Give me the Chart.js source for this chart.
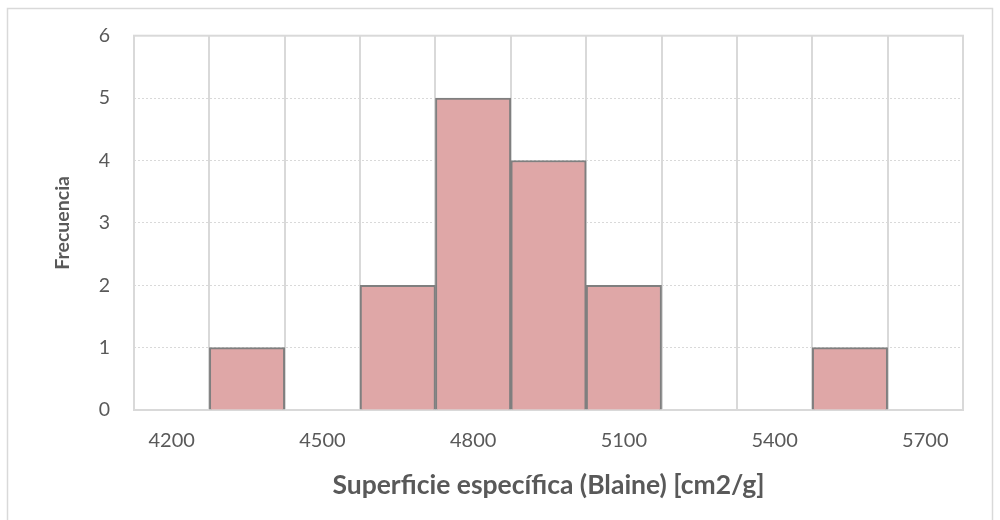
<!DOCTYPE html>
<html>
<head>
<meta charset="utf-8">
<script src="https://cdn.jsdelivr.net/npm/chart.js@4/dist/chart.umd.min.js"></script>
<style>
  html, body { margin: 0; padding: 0; background: #fff; }
  #wrap { width: 1000px; height: 520px; position: relative; }
</style>
</head>
<body>
<div id="wrap"><canvas id="myChart"></canvas></div>
<script>
// bin centres (class width 150) and counts
const bins = ['4200', '4350', '4500', '4650', '4800', '4950', '5100', '5250', '5400', '5550', '5700'];
const freq = [0, 1, 0, 2, 5, 4, 2, 0, 0, 1, 0];
const yTicks = [0, 1, 2, 3, 4, 5, 6];

const FONT = 'Lato, Calibri, "Open Sans", sans-serif';
const TEXT = '#595959';
const GRID = '#d9d9d9';

// outer frame + plot box, drawn under the bars
const frames = {
  id: 'frames',
  beforeDraw(chart) {
    const c = chart.ctx;
    c.save();
    c.strokeStyle = GRID;
    c.lineWidth = 1.5;
    c.strokeRect(7.5, 8.5, 985, 520);
    c.restore();
  },
  beforeDatasetsDraw(chart) {
    const a = chart.chartArea;
    const c = chart.ctx;
    c.save();
    c.strokeStyle = GRID;
    c.lineWidth = 2;
    c.strokeRect(a.left, a.top, a.right - a.left, a.bottom - a.top);
    c.restore();
  }
};

const ctx = document.getElementById('myChart').getContext('2d');
const myChart = new Chart(ctx, {
  type: 'bar',
  data: {
    labels: bins,
    datasets: [{
      label: 'Frecuencia',
      data: freq,
      backgroundColor: '#dfa7a7',
      borderColor: '#7f7f7f',
      borderWidth: 2,
      barPercentage: 1,
      categoryPercentage: 1
    }]
  },
  options: {
    responsive: true,
    maintainAspectRatio: false,
    animation: false,
    layout: { padding: { left: 0, right: 37, top: 35, bottom: 0 } },
    plugins: {
      legend: { display: false },
      tooltip: { enabled: false }
    },
    scales: {
      x: {
        type: 'category',
        offset: true,
        grid: { offset: true, color: GRID, lineWidth: 2, drawTicks: false },
        border: { display: false },
        ticks: {
          autoSkip: false,
          maxRotation: 0,
          padding: 19,
          color: TEXT,
          font: { family: FONT, size: 20 },
          callback: function (v, i) { return i % 2 === 0 ? this.getLabelForValue(v) : ''; }
        },
        title: {
          display: true,
          text: 'Superficie específica (Blaine) [cm2/g]',
          color: TEXT,
          font: { family: FONT, size: 26.5, weight: 'bold' },
          padding: { top: 0, bottom: 19 }
        },
        afterFit: s => { s.height = 110; }
      },
      y: {
        min: 0,
        max: 6,
        afterBuildTicks: s => { s.ticks = yTicks.map(v => ({ value: v })); },
        grid: { color: GRID, lineWidth: 1, drawTicks: false },
        border: { display: false, dash: [2, 2] },
        ticks: {
          padding: 24,
          color: TEXT,
          font: { family: FONT, size: 19.5 }
        },
        title: {
          display: true,
          text: 'Frecuencia',
          color: TEXT,
          font: { family: FONT, size: 19.5, weight: 'bold' },
          padding: { top: 51, bottom: 0 }
        },
        afterFit: s => { s.width = 134; }
      }
    }
  },
  plugins: [frames]
});
</script>
</body>
</html>
